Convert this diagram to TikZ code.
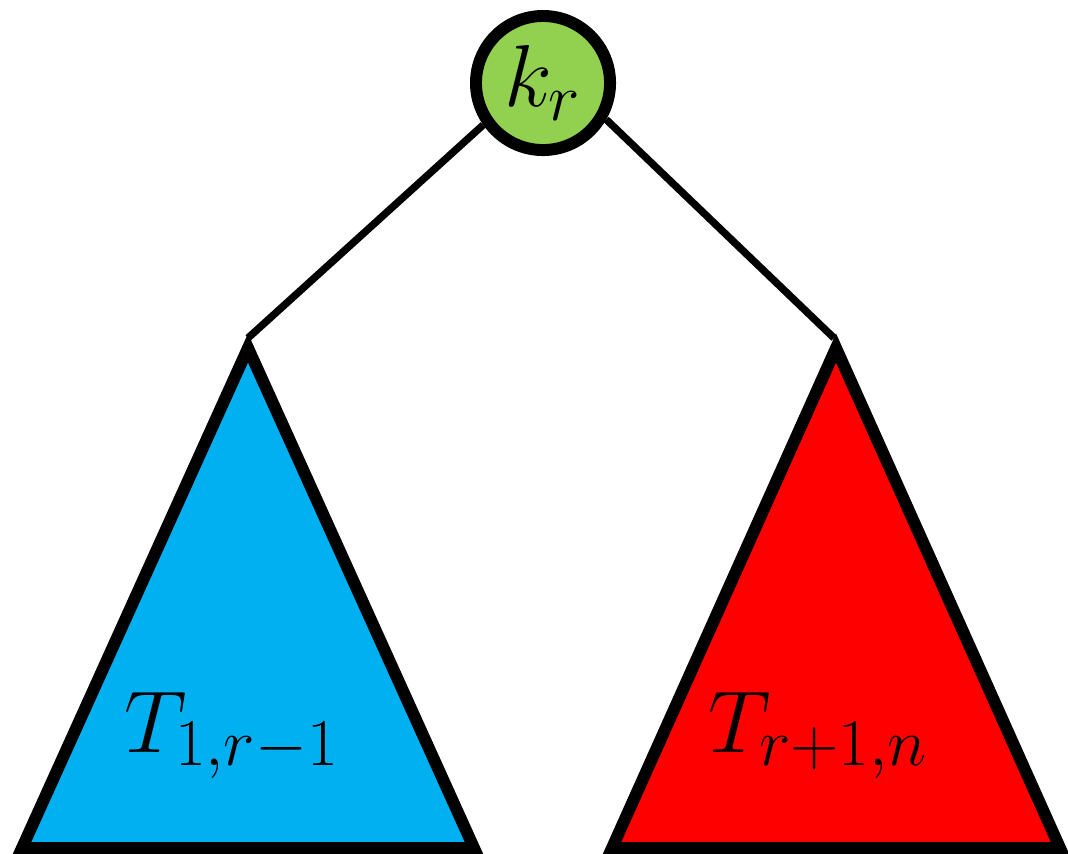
\RequirePackage{fix-cm}
\documentclass[tikz,border=0pt]{standalone}
\usepackage{amsmath}
\usepackage{xcolor}
\usepackage{tikz}
\usetikzlibrary{
calc
}

\DeclareMathSizes{25}{25}{19}{14}

\definecolor{keygreen}{HTML}{92D050}
\definecolor{leftblue}{HTML}{00B0F0}
\definecolor{rightred}{HTML}{FF0000}

\begin{document}
\begin{tikzpicture}[
x=0.01cm,
y=-0.01cm,
keynode/.style={
circle,
draw,
line width=3.4pt,
fill=keygreen,
minimum size=1.34cm,
inner sep=0pt,
font=\fontsize{25}{30}\selectfont
},
subtree/.style={draw,line width=3.4pt,line join=miter},
link/.style={line width=2.1pt},
treelabel/.style={inner sep=0pt,anchor=base west,font=\fontsize{25}{30}\selectfont}
]

\useasboundingbox (0,0) rectangle (1068,853);

% left and right subtrees
\coordinate (leftapex) at (248,338);
\coordinate (rightapex) at (834,338);
\draw[subtree,fill=leftblue] (248,348) -- (22,848) -- (474,848) -- cycle;
\draw[subtree,fill=rightred] (836,348) -- (612,848) -- (1060,848) -- cycle;

\node[treelabel] (tleft) at (124,752) {$T_{1,r-1}$};
\node[treelabel] (tright) at (708,752) {$T_{r+1,n}$};

% root key
\node[keynode] (kr) at (543,83) {$k_r$};

\draw[link] (kr.215) -- (leftapex);
\draw[link] (kr.-30) -- (rightapex);

\end{tikzpicture}
\end{document}
